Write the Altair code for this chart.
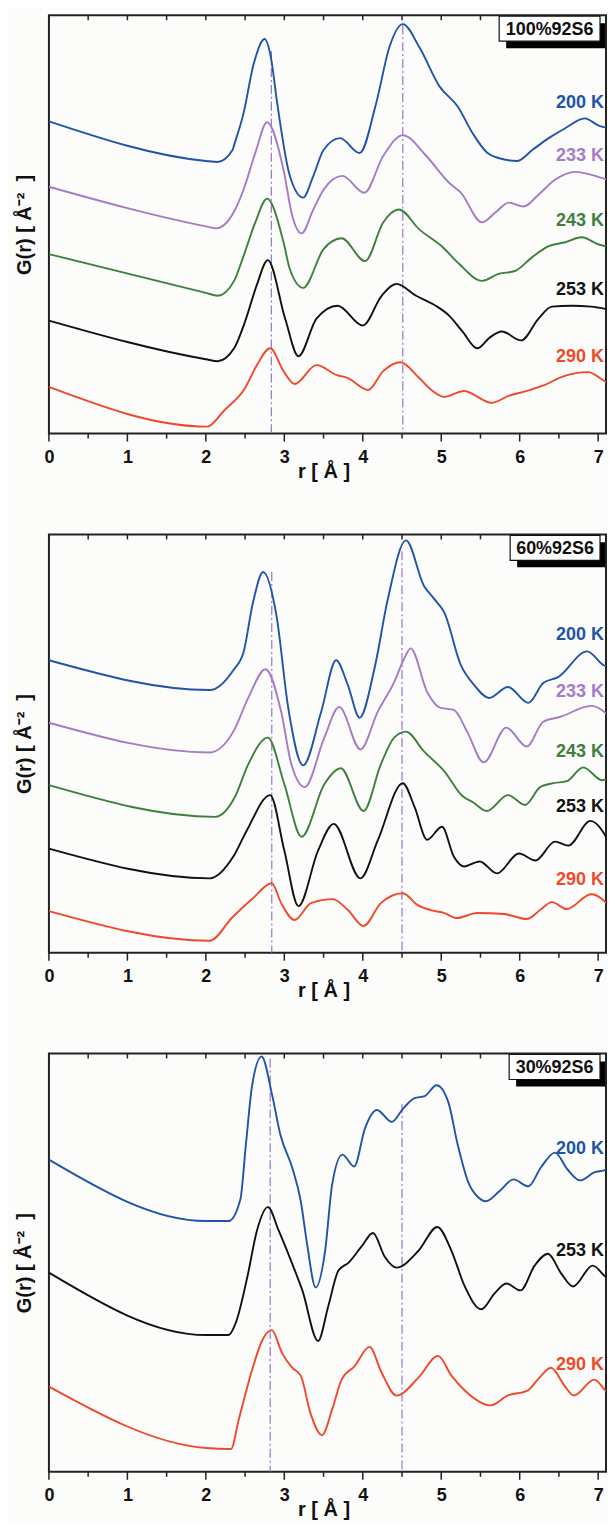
import altair as alt
import pandas as pd

# ---------------- data (G in arbitrary units) ----------------
TEMPS = ["200 K", "233 K", "243 K", "253 K", "290 K"]
COLORS = ["#2153a8", "#a47bc6", "#3e7f3e", "#111111", "#f0492a"]

XTICKS_MAJOR = [0, 1, 2, 3, 4, 5, 6, 7]
XTICKS_MINOR = [0.5, 1.5, 2.5, 3.5, 4.5, 5.5, 6.5]

# Panel 1 : 100%92S6
P1_200_R = [0, 2.0, 2.15, 2.34, 2.36, 2.48, 2.61, 2.75, 2.83, 2.91, 3.07, 3.24, 3.37, 3.5, 3.71, 3.96, 4.17, 4.34, 4.51, 4.72, 4.98, 5.21, 5.40, 5.59, 5.73, 5.97, 6.16, 6.37, 6.58, 6.83, 7.0, 7.2]
P1_200_G = [315, 275, 274, 286, 291, 323, 373, 398, 379, 333, 260, 238, 260, 286, 298, 283, 333, 390, 413, 390, 350, 330, 303, 283, 278, 275, 286, 298, 308, 318, 311, 307]
P1_233_R = [0, 2.0, 2.13, 2.36, 2.48, 2.63, 2.78, 2.99, 3.1, 3.22, 3.37, 3.5, 3.74, 4.02, 4.26, 4.51, 4.81, 5.10, 5.25, 5.52, 5.69, 5.86, 6.05, 6.24, 6.45, 6.71, 7.0, 7.2]
P1_233_G = [249, 209, 207, 224, 246, 283, 314, 266, 220, 202, 226, 246, 260, 243, 280, 301, 280, 253, 243, 213, 223, 233, 229, 241, 256, 264, 259, 254]
P1_243_R = [0, 2.0, 2.15, 2.36, 2.48, 2.63, 2.78, 2.99, 3.07, 3.24, 3.5, 3.73, 4.03, 4.26, 4.46, 4.72, 5.02, 5.23, 5.52, 5.73, 5.94, 6.16, 6.37, 6.58, 6.79, 7.0, 7.2]
P1_243_G = [181, 142, 139, 154, 179, 213, 237, 193, 166, 147, 186, 197, 174, 213, 226, 206, 188, 171, 154, 161, 164, 178, 189, 193, 198, 191, 187]
P1_253_R = [0, 2.0, 2.15, 2.36, 2.5, 2.65, 2.79, 3.01, 3.18, 3.41, 3.68, 4.0, 4.24, 4.43, 4.68, 4.93, 5.10, 5.27, 5.46, 5.62, 5.77, 6.02, 6.24, 6.41, 6.66, 6.91, 7.2]
P1_253_G = [114, 75, 73, 86, 113, 150, 175, 116, 78, 116, 129, 109, 139, 151, 139, 129, 119, 103, 86, 97, 103, 94, 116, 128, 129, 128, 124]
P1_290_R = [0, 2.02, 2.23, 2.5, 2.65, 2.82, 2.99, 3.13, 3.41, 3.67, 3.81, 4.07, 4.26, 4.48, 4.72, 4.89, 5.04, 5.29, 5.64, 5.86, 6.09, 6.32, 6.53, 6.87, 7.06, 7.2]
P1_290_G = [47, 7, 23, 46, 69, 86, 63, 50, 69, 59, 56, 44, 63, 72, 56, 43, 37, 43, 31, 38, 43, 49, 57, 62, 54, 46]

# Panel 2 : 60%92S6
P2_200_R = [0, 2.05, 2.35, 2.48, 2.6, 2.73, 2.9, 3.05, 3.24, 3.47, 3.66, 3.81, 3.96, 4.15, 4.32, 4.55, 4.78, 4.91, 5.04, 5.25, 5.42, 5.61, 5.85, 6.11, 6.30, 6.49, 6.86, 7.07, 7.2]
P2_200_G = [295, 265, 285, 303, 353, 384, 340, 247, 189, 243, 295, 270, 237, 287, 357, 416, 370, 357, 343, 290, 270, 257, 268, 252, 272, 278, 304, 290, 287]
P2_233_R = [0, 2.05, 2.35, 2.54, 2.76, 2.96, 3.09, 3.26, 3.51, 3.70, 3.97, 4.19, 4.40, 4.53, 4.61, 4.82, 4.99, 5.16, 5.33, 5.54, 5.83, 6.09, 6.30, 6.52, 6.91, 7.2]
P2_233_G = [232, 202, 223, 257, 286, 243, 190, 167, 217, 248, 205, 243, 273, 297, 307, 263, 247, 245, 223, 192, 227, 208, 233, 238, 249, 234]
P2_243_R = [0, 2.12, 2.37, 2.54, 2.79, 3.0, 3.22, 3.51, 3.72, 4.01, 4.23, 4.40, 4.55, 4.78, 5.04, 5.27, 5.40, 5.58, 5.85, 6.07, 6.26, 6.43, 6.60, 6.81, 7.05, 7.2]
P2_243_G = [169, 137, 157, 190, 217, 170, 117, 170, 186, 143, 190, 217, 223, 203, 183, 158, 152, 143, 159, 149, 167, 171, 173, 187, 174, 180]
P2_253_R = [0, 2.05, 2.35, 2.52, 2.82, 3.0, 3.18, 3.43, 3.63, 3.97, 4.19, 4.51, 4.66, 4.82, 5.01, 5.16, 5.29, 5.49, 5.71, 5.99, 6.20, 6.45, 6.62, 6.90, 7.2]
P2_253_G = [105, 75, 97, 123, 159, 103, 47, 103, 130, 75, 113, 171, 147, 114, 127, 97, 87, 92, 80, 100, 93, 112, 108, 133, 102]
P2_290_R = [0, 2.05, 2.33, 2.6, 2.84, 2.96, 3.13, 3.34, 3.62, 3.81, 4.01, 4.23, 4.51, 4.70, 4.87, 5.04, 5.20, 5.46, 5.80, 6.09, 6.26, 6.41, 6.60, 6.91, 7.2]
P2_290_G = [42, 12, 35, 55, 70, 50, 33, 50, 54, 43, 27, 50, 60, 48, 43, 40, 35, 40, 39, 34, 43, 51, 44, 59, 42]

# Panel 3 : 30%92S6
P3_200_R = [0, 2.0, 2.29, 2.44, 2.51, 2.59, 2.71, 2.845, 2.95, 3.10, 3.21, 3.29, 3.40, 3.52, 3.61, 3.74, 3.89, 4.03, 4.18, 4.37, 4.52, 4.66, 4.79, 4.94, 5.09, 5.21, 5.34, 5.47, 5.57, 5.74, 5.92, 6.11, 6.27, 6.45, 6.61, 6.77, 6.95, 7.1, 7.2]
P3_200_G = [315, 253, 253, 275, 330, 390, 419, 380, 340, 307, 273, 230, 186, 223, 290, 320, 308, 347, 365, 353, 367, 377, 379, 390, 373, 330, 293, 277, 273, 283, 295, 288, 307, 322, 305, 294, 302, 305, 312]
P3_253_R = [0, 2.0, 2.29, 2.38, 2.53, 2.65, 2.79, 2.93, 3.10, 3.23, 3.43, 3.56, 3.69, 3.82, 3.99, 4.13, 4.28, 4.43, 4.71, 4.95, 5.13, 5.30, 5.51, 5.68, 5.83, 6.01, 6.19, 6.36, 6.53, 6.68, 6.93, 7.14, 7.2]
P3_253_G = [201, 138, 138, 150, 197, 243, 267, 243, 210, 183, 132, 167, 203, 211, 228, 241, 217, 206, 223, 247, 223, 187, 164, 180, 190, 183, 208, 220, 200, 187, 208, 195, 200]
P3_290_R = [0, 2.0, 2.32, 2.42, 2.59, 2.72, 2.84, 2.97, 3.10, 3.21, 3.33, 3.48, 3.61, 3.73, 3.90, 4.085, 4.24, 4.43, 4.71, 4.96, 5.13, 5.30, 5.63, 5.85, 6.10, 6.23, 6.40, 6.57, 6.69, 6.95, 7.15, 7.2]
P3_290_G = [86, 24, 23, 53, 103, 133, 143, 120, 105, 97, 60, 37, 63, 93, 107, 126, 100, 77, 95, 117, 97, 82, 67, 77, 82, 93, 105, 87, 77, 93, 79, 80]

# dash-dot reference lines (r position, top of line in G units)
P1_VLINE_R = [2.835, 4.51]
P1_VLINE_TOP = [386, 412]
P2_VLINE_R = [2.84, 4.50]
P2_VLINE_TOP = [384, 405]
P3_VLINE_R = [2.82, 4.50]
P3_VLINE_TOP = [417, 371]

# curve labels (height in G units)
P1_LABELS = ["200 K", "233 K", "243 K", "253 K", "290 K"]
P1_LABEL_G = [333, 280, 214, 145, 77]
P2_LABELS = ["200 K", "233 K", "243 K", "253 K", "290 K"]
P2_LABEL_G = [320, 263, 202, 147, 73]
P3_LABELS = ["200 K", "253 K", "290 K"]
P3_LABEL_G = [326, 223, 108]

PANEL_NAMES = ["100%92S6", "60%92S6", "30%92S6"]

# ---------------- layout ----------------
W = 558
H = 419
GMAX = 422
FONT = "Liberation Sans"
BG = "#fcfcfa"
XMAX = 7.1
Y_TITLE = "G(r) [ Å\u207b\u00b2\u00a0\u00a0]"


def panel(series, vr, vtop, labels, label_g, name, box_w):
    rows = []
    for t, (rs, gs) in series.items():
        for r, g in zip(rs, gs):
            rows.append({"T": t, "r": r, "G": g})
    df = pd.DataFrame(rows)

    xs = alt.Scale(domain=[0, XMAX], nice=False, zero=False)
    ys = alt.Scale(domain=[0, GMAX], nice=False, zero=False)
    cs = alt.Scale(domain=TEMPS, range=COLORS)

    xaxis = alt.Axis(values=XTICKS_MAJOR, ticks=False, domain=False, grid=False,
                     labelFlush=False, labelPadding=15, labelFont=FONT, labelFontSize=18,
                     labelFontWeight="bold", labelColor="#111", format="d",
                     title="r [ Å ]", titleFont=FONT, titleFontSize=20, titleFontWeight="bold",
                     titleColor="#111", titlePadding=-5, titleX=275, titleAlign="center")
    yaxis = alt.Axis(labels=False, ticks=False, domain=False, grid=False,
                     title=Y_TITLE, titleFont=FONT, titleFontSize=20,
                     titleFontWeight="bold", titleColor="#111", titlePadding=14)

    lines = alt.Chart(df).mark_line(strokeWidth=1.9, interpolate="monotone", clip=True).encode(
        x=alt.X("r:Q", scale=xs, axis=xaxis),
        y=alt.Y("G:Q", scale=ys, axis=yaxis),
        color=alt.Color("T:N", scale=cs, legend=None),
        detail="T:N",
    )

    vdf = pd.DataFrame({"r": vr, "top": vtop})
    vlines = alt.Chart(vdf).mark_rule(color="#9c72d4", strokeWidth=1.2,
                                       strokeDash=[9, 3, 2, 3]).encode(
        x=alt.X("r:Q", scale=xs),
        y=alt.Y("top:Q", scale=ys),
        y2=alt.value(H),
    )

    top_ticks = alt.Chart(pd.DataFrame({"r": XTICKS_MAJOR + XTICKS_MINOR})).mark_rule(
        color="#222", strokeWidth=1.5).encode(
        x=alt.X("r:Q", scale=xs), y=alt.value(0), y2=alt.value(5))
    bot_major = alt.Chart(pd.DataFrame({"r": XTICKS_MAJOR})).mark_rule(
        color="#222", strokeWidth=1.5).encode(
        x=alt.X("r:Q", scale=xs), y=alt.value(H), y2=alt.value(H + 8))
    bot_minor = alt.Chart(pd.DataFrame({"r": XTICKS_MINOR})).mark_rule(
        color="#222", strokeWidth=1.5).encode(
        x=alt.X("r:Q", scale=xs), y=alt.value(H), y2=alt.value(H + 5))

    ldf = pd.DataFrame({"T": labels, "G": label_g})
    texts = alt.Chart(ldf).mark_text(align="right", baseline="middle", font=FONT,
                                     fontSize=18, fontWeight="bold").encode(
        x=alt.value(W - 2),
        y=alt.Y("G:Q", scale=ys),
        text="T:N",
        color=alt.Color("T:N", scale=cs, legend=None),
    )

    bdf = pd.DataFrame({"name": [name]})
    box_right = W - 6
    shadow = alt.Chart(bdf).mark_rect(color="#000").encode(
        x=alt.value(box_right - box_w + 7), x2=alt.value(W - 1), y=alt.value(8), y2=alt.value(33))
    box = alt.Chart(bdf).mark_rect(fill="#ffffff", stroke="#111", strokeWidth=1.2).encode(
        x=alt.value(box_right - box_w), x2=alt.value(box_right), y=alt.value(1), y2=alt.value(26))
    btxt = alt.Chart(bdf).mark_text(font=FONT, fontSize=18, fontWeight="bold",
                                    color="#111", baseline="middle", align="center").encode(
        x=alt.value(box_right - box_w / 2), y=alt.value(14.5), text="name:N")

    return alt.layer(vlines, lines, top_ticks, bot_major, bot_minor, texts,
                     shadow, box, btxt).properties(width=W, height=H)


p1 = panel({"200 K": (P1_200_R, P1_200_G), "233 K": (P1_233_R, P1_233_G),
            "243 K": (P1_243_R, P1_243_G), "253 K": (P1_253_R, P1_253_G),
            "290 K": (P1_290_R, P1_290_G)},
           P1_VLINE_R, P1_VLINE_TOP, P1_LABELS, P1_LABEL_G, PANEL_NAMES[0], 101)
p2 = panel({"200 K": (P2_200_R, P2_200_G), "233 K": (P2_233_R, P2_233_G),
            "243 K": (P2_243_R, P2_243_G), "253 K": (P2_253_R, P2_253_G),
            "290 K": (P2_290_R, P2_290_G)},
           P2_VLINE_R, P2_VLINE_TOP, P2_LABELS, P2_LABEL_G, PANEL_NAMES[1], 90)
p3 = panel({"200 K": (P3_200_R, P3_200_G), "253 K": (P3_253_R, P3_253_G),
            "290 K": (P3_290_R, P3_290_G)},
           P3_VLINE_R, P3_VLINE_TOP, P3_LABELS, P3_LABEL_G, PANEL_NAMES[2], 91)

chart = alt.vconcat(p1, p2, p3, spacing=50).properties(
    padding={"left": 6, "top": 4, "right": 0, "bottom": 0},
    background=BG,
).configure_view(stroke="#222", strokeWidth=2, fill=BG)

chart.save("out.html", embed_options={"renderer": "svg", "actions": False})
